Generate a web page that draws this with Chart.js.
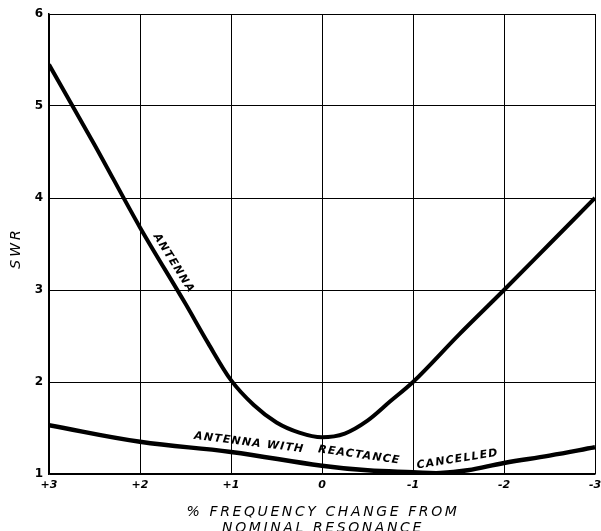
<!DOCTYPE html>
<html>
<head>
<meta charset="utf-8">
<script src="https://cdn.jsdelivr.net/npm/chart.js@4"></script>
<style>
html,body{margin:0;padding:0;background:#fff;}
#wrap{width:601px;height:531px;}
</style>
</head>
<body>
<div id="wrap"><canvas id="c" width="601" height="531"></canvas></div>
<script>
// ---- data ----
const xTickLabels = {"3":"+3","2":"+2","1":"+1","0":"0","-1":"-1","-2":"-2","-3":"-3"};
const antennaX = [3, 2.5, 2, 1.5, 1.25, 1, 0.75, 0.5, 0.25, 0, -0.25, -0.5, -0.75, -1, -1.5, -2, -2.5, -3];
const antennaY = [5.45, 4.58, 3.68, 2.85, 2.42, 2.02, 1.75, 1.56, 1.45, 1.40, 1.44, 1.58, 1.79, 2.0, 2.51, 3.0, 3.5, 4.0];
const cancelX = [3, 2, 1, 0, -0.5, -1, -1.3, -1.6, -2, -2.5, -3];
const cancelY = [1.53, 1.35, 1.24, 1.09, 1.04, 1.02, 1.01, 1.04, 1.12, 1.2, 1.29];
const yTitle = "SWR";
const xTitleLines = ["% FREQUENCY CHANGE FROM", "NOMINAL RESONANCE"];
const curveLabels = [
  {text: "ANTENNA", x: 1.63, y: 3.29, angle: 58},
  {text: "ANTENNA WITH", x: 0.8, y: 1.34, angle: 7},
  {text: "REACTANCE", x: -0.41, y: 1.205, angle: 8},
  {text: "CANCELLED", x: -1.49, y: 1.16, angle: -9}
];

const toPts = (xs, ys) => xs.map((x, i) => ({x: x, y: ys[i]}));

const labelPlugin = {
  id: 'labels',
  afterDraw(chart) {
    const ctx = chart.ctx;
    const xs = chart.scales.x, ys = chart.scales.y;
    ctx.save();
    ctx.fillStyle = '#000';
    ctx.textAlign = 'center';
    ctx.textBaseline = 'middle';
    ctx.font = 'bold italic 11px "DejaVu Sans"';
    ctx.letterSpacing = '1.2px';
    curveLabels.forEach(l => {
      ctx.save();
      ctx.translate(xs.getPixelForValue(l.x), ys.getPixelForValue(l.y));
      ctx.rotate(l.angle * Math.PI / 180);
      ctx.fillText(l.text, 0, 0);
      ctx.restore();
    });
    // x axis title
    ctx.font = 'italic 14px "DejaVu Sans"';
    ctx.letterSpacing = '2.6px';
    const cx = (chart.chartArea.left + chart.chartArea.right) / 2;
    ctx.fillText(xTitleLines[0], cx + 1, 512);
    ctx.fillText(xTitleLines[1], cx + 1, 528);
    // y axis title
    ctx.save();
    ctx.translate(16, (chart.chartArea.top + chart.chartArea.bottom) / 2 + 4);
    ctx.rotate(-Math.PI / 2);
    ctx.font = 'italic 14px "DejaVu Sans"';
    ctx.letterSpacing = '3px';
    ctx.fillText(yTitle, 0, 0);
    ctx.restore();
    ctx.restore();
  }
};

new Chart(document.getElementById('c'), {
  type: 'line',
  data: {
    datasets: [
      {label: 'Antenna', data: toPts(antennaX, antennaY), borderColor: '#000', borderWidth: 4,
       pointRadius: 0, cubicInterpolationMode: 'monotone', fill: false},
      {label: 'Antenna with reactance cancelled', data: toPts(cancelX, cancelY), borderColor: '#000', borderWidth: 4.5,
       pointRadius: 0, tension: 0.4, fill: false}
    ]
  },
  options: {
    responsive: false,
    animation: false,
    events: [],
    layout: {padding: {left: 0, right: 6, top: 14, bottom: 0}},
    plugins: {legend: {display: false}, tooltip: {enabled: false}},
    scales: {
      x: {
        type: 'linear', reverse: true, min: -3, max: 3,
        ticks: {stepSize: 1, color: '#000', padding: 5,
          font: {family: '"DejaVu Sans"', size: 11, style: 'italic', weight: 'bold'},
          callback: v => xTickLabels[String(v)] ?? ''},
        grid: {color: '#000', lineWidth: 1, drawTicks: false},
        border: {color: '#000', width: 1.5},
        afterFit: s => { s.height = 57; s.paddingLeft = 0; s.paddingRight = 0; }
      },
      y: {
        min: 1, max: 6,
        ticks: {stepSize: 1, color: '#000', padding: 6,
          font: {family: '"DejaVu Sans"', size: 12, weight: 'bold'}},
        grid: {color: '#000', lineWidth: 1, drawTicks: false},
        border: {color: '#000', width: 1.5},
        title: {display: false, text: yTitle},
        afterFit: s => { s.width = 49; s.paddingTop = 0; s.paddingBottom = 0; }
      }
    }
  },
  plugins: [labelPlugin]
});
</script>
</body>
</html>
